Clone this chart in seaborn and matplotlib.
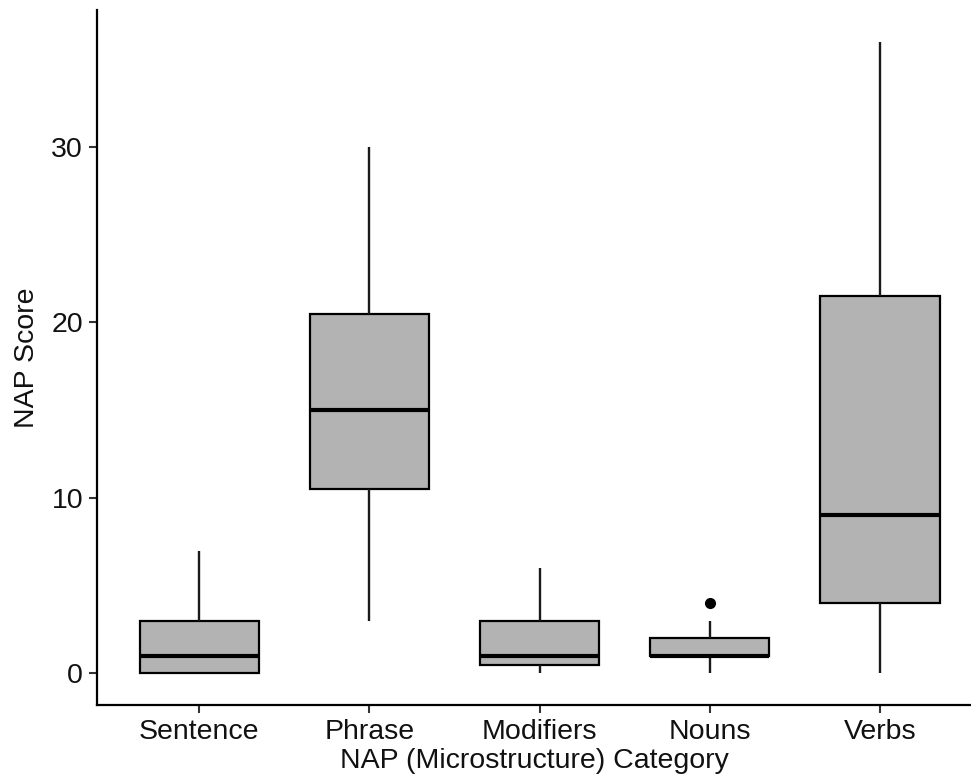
import matplotlib
matplotlib.use("Agg")
import matplotlib.pyplot as plt
import seaborn as sns
import pandas as pd

# NAP scores per microstructure category (raw values chosen to give the box stats)
categories = ["Sentence", "Phrase", "Modifiers", "Nouns", "Verbs"]
sentence = [0, 0, 1, 3, 7]
phrase = [3, 10.5, 15, 20.5, 30]
modifiers = [0, 0.5, 1, 3, 6]
nouns = [0, 1, 1, 1, 1, 2, 2, 3, 4]
verbs = [0, 4, 9, 21.5, 36]

scores = [sentence, phrase, modifiers, nouns, verbs]

rows = []
for cat, vals in zip(categories, scores):
    for v in vals:
        rows.append({"Category": cat, "Score": v})
df = pd.DataFrame(rows)

sns.set_style("ticks")
plt.rcParams['font.family'] = ['Liberation Sans', 'DejaVu Sans']

fig = plt.figure(figsize=(9.71, 7.84), dpi=100)
ax = fig.add_axes([0.0999, 0.1008, 0.9001, 0.8865])

sns.boxplot(data=df, x="Category", y="Score", order=categories, ax=ax,
            color="#B3B3B3", saturation=1, width=0.7, linecolor="black",
            linewidth=1.6, showcaps=False,
            medianprops=dict(linewidth=3, color="black"),
            whiskerprops=dict(linewidth=1.7, color="#1a1a1a"),
            flierprops=dict(marker="o", markerfacecolor="black",
                            markeredgecolor="black", markersize=7))

ax.set_xlim(-0.6, 4.535)
ax.set_ylim(-1.8, 37.8)
ax.set_yticks([0, 10, 20, 30])

ax.set_xlabel("NAP (Microstructure) Category", fontsize=20.5, labelpad=2,
              color="#111111")
ax.set_ylabel("NAP Score", fontsize=20.5, labelpad=8, color="#111111")
ax.tick_params(axis="both", labelsize=20.5, length=6, width=1.5,
               color="#333333", labelcolor="#111111", pad=4)

sns.despine(ax=ax)
for side in ["left", "bottom"]:
    ax.spines[side].set_linewidth(1.6)
    ax.spines[side].set_color("black")

fig.savefig("out.png", dpi=100)
plt.close(fig)
